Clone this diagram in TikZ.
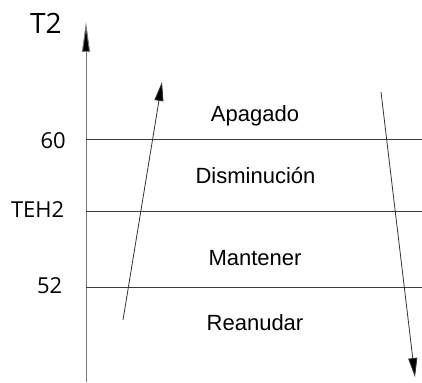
\documentclass[tikz,border=0pt]{standalone}
\usepackage{fontspec}
\setmainfont{Liberation Sans}
\newfontfamily\axisfont{Open Sans}
\usepackage{tikz}
\usetikzlibrary{arrows.meta, calc}
\definecolor{axisgray}{RGB}{120,120,120}
\definecolor{levelgray}{RGB}{60,60,60}

\begin{document}
\begin{tikzpicture}[x=1pt, y=-1pt]
        % Define styles
        \tikzstyle{zone} = [font=\fontsize{22}{26}\selectfont, anchor=base, inner sep=0pt]
        \tikzstyle{level} = [font=\axisfont\fontsize{22}{26}\selectfont, anchor=base east, inner sep=0pt]
        \tikzstyle{levelline} = [levelgray, line width=1pt]
        \tikzstyle{trend} = [black!80, line width=0.8pt, -{Triangle[length=19pt, width=9pt, fill=black]}]

        \useasboundingbox (0, 0) rectangle (422, 382);

        % Axis
        \coordinate (base) at (86, 382);
        \coordinate (top) at (86, 22);
        \draw[axisgray, line width=1pt, -{Triangle[length=30pt, width=8pt, fill=black]}] (base) -- (top);
        \node[font=\axisfont\fontsize{28}{32}\selectfont, anchor=base west, inner sep=0pt] (t2) at (30, 34) {T2};

        % Level lines
        \coordinate (l60) at (86, 139.5);
        \coordinate (r60) at (422, 139.5);
        \coordinate (lteh) at (86, 211);
        \coordinate (rteh) at (422, 211);
        \coordinate (l52) at (86, 287);
        \coordinate (r52) at (422, 287);
        \draw[levelline] (l60) -- (r60);
        \draw[levelline] (lteh) -- (rteh);
        \draw[levelline] (l52) -- (r52);

        % Level labels
        \node[level] (v60) at (66, 148) {60};
        \node[level] (teh2) at (64.5, 217) {TEH2};
        \node[level] (v52) at (62.5, 293) {52};

        % Zones
        \node[zone] (apagado) at (255, 122) {Apagado};
        \node[zone] (dismin) at (255.5, 183) {Disminución};
        \node[zone] (mantener) at (255, 265) {Mantener};
        \node[zone] (reanudar) at (255, 330) {Reanudar};

        % Trends
        \coordinate (up0) at (123, 320);
        \coordinate (up1) at (162, 82);
        \coordinate (dn0) at (381, 92);
        \coordinate (dn1) at (415, 377);
        \draw[trend] (up0) -- (up1);
        \draw[trend] (dn0) -- (dn1);

    \end{tikzpicture}
\end{document}
